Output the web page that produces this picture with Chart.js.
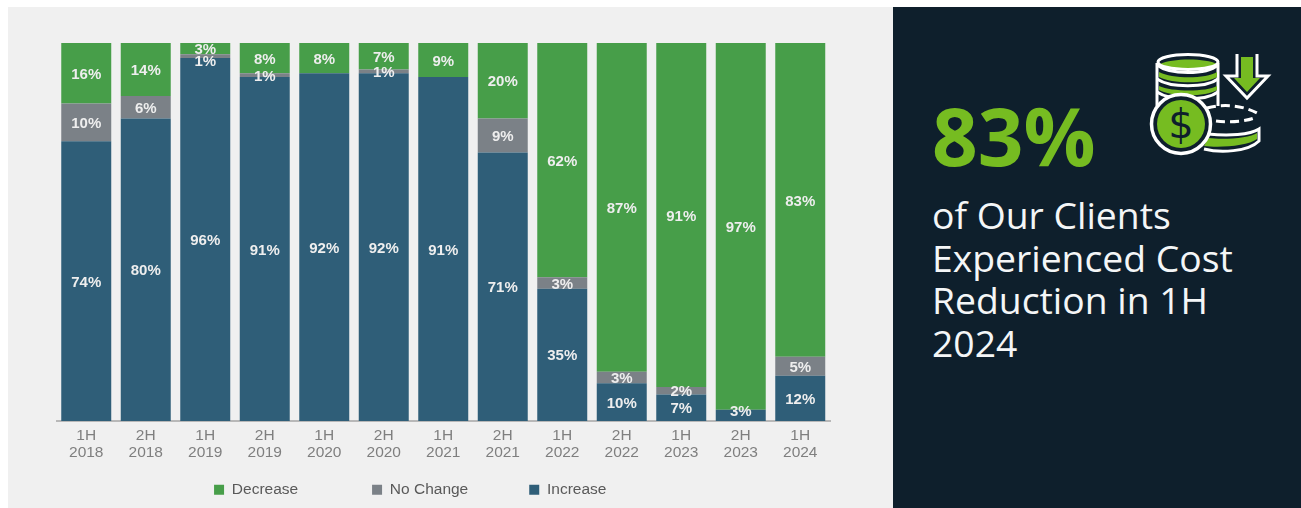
<!DOCTYPE html>
<html><head><meta charset="utf-8">
<script src="https://cdn.jsdelivr.net/npm/chart.js@4"></script>
<style>
html,body{margin:0;padding:0;background:#fff;width:1301px;height:508px;overflow:hidden}
#left{position:absolute;left:8px;top:7px;width:885px;height:501px;background:#f0f0f0}
#right{position:absolute;left:893px;top:7px;width:408px;height:501px;background:#0e1f2c}
#big{position:absolute;left:39px;top:73px;font:700 80px/110px "Open Sans";color:#76bc21}
#txt{position:absolute;left:39px;top:187px;width:360px;font:400 37.3px/42.6px "Open Sans";color:#f4f6f7}
#icon{position:absolute;left:0;top:0}
</style></head><body>
<div id="left"><canvas id="c" width="885" height="501"></canvas></div>
<div id="right">
<div id="big">83%</div>
<div id="txt">of Our Clients<br>Experienced Cost<br>Reduction in 1H<br>2024</div>
<svg id="icon" width="408" height="200" viewBox="893 7 408 200" fill="none">
<path d="M1157 63V106M1218 63V106" stroke="#fff" stroke-width="3"/>
<path d="M1160 64C1172 58 1206 58 1217 64C1206 71 1172 71 1160 64Z" fill="#76bc21"/>
<ellipse cx="1188" cy="62" rx="30" ry="7.5" stroke="#fff" stroke-width="3"/>
<path d="M1157 65C1170 75 1206 75 1218 65" stroke="#fff" stroke-width="3"/>
<path d="M1159 72C1172 79 1206 79 1217 72V77C1206 84 1172 84 1159 77Z" fill="#76bc21"/>
<path d="M1157 79C1170 88 1206 88 1218 79" stroke="#fff" stroke-width="3"/>
<path d="M1159 86C1172 92 1206 92 1217 86V90C1206 97 1172 97 1159 90Z" fill="#76bc21"/>
<path d="M1157 92C1170 101 1206 101 1218 92" stroke="#fff" stroke-width="3"/>
<path d="M1207 108C1225 103 1245 106 1259 114" stroke="#fff" stroke-width="3" stroke-dasharray="9 5"/>
<path d="M1216 121C1230 123 1247 121 1254 118" stroke="#fff" stroke-width="3" stroke-dasharray="9 5"/>
<path d="M1208 138C1225 140 1250 138 1257 133V139C1248 146 1220 148 1204 146Z" fill="#76bc21"/>
<path d="M1208 134C1228 136 1250 135 1259 129V141C1248 152 1220 153 1204 149" stroke="#fff" stroke-width="3"/>
<circle cx="1181" cy="124" r="29.5" fill="#0e1f2c" stroke="#fff" stroke-width="3.5"/>
<circle cx="1181" cy="124" r="24" fill="#76bc21"/>
<text x="1181" y="138" text-anchor="middle" font-family="DejaVu Sans" font-size="40" fill="#0e1f2c">$</text>
<path d="M1237 54V76H1226L1247 98L1268 76H1257V54" stroke="#fff" stroke-width="3"/>
<path d="M1241 57H1253V78H1260L1247 92L1234 78H1241Z" fill="#76bc21"/>
</svg>
</div>
<script>
const categories=[["1H","2018"],["2H","2018"],["1H","2019"],["2H","2019"],["1H","2020"],["2H","2020"],["1H","2021"],["2H","2021"],["1H","2022"],["2H","2022"],["1H","2023"],["2H","2023"],["1H","2024"]];
const increase=[74,80,96,91,92,92,91,71,35,10,7,3,12];
const noChange=[10,6,1,1,0,1,0,9,3,3,2,0,5];
const decrease=[16,14,3,8,8,7,9,20,62,87,91,97,83];
const seriesNames=["Increase","No Change","Decrease"];
const colors=["#2f5e78","#7b8187","#479e49"];
const FONT='"Liberation Sans"';

const barLabels={id:'barLabels',afterDatasetsDraw(chart){
  const ctx=chart.ctx;ctx.save();
  ctx.font='bold 15px '+FONT;ctx.fillStyle='#eeeeee';ctx.textAlign='center';ctx.textBaseline='middle';
  chart.data.datasets.forEach((ds,d)=>{
    const meta=chart.getDatasetMeta(d);
    ds.data.forEach((v,i)=>{
      if(!v)return;
      const el=meta.data[i];
      let shift=1.5;
      if(d===1&&i===2)shift=5.5;
      if(d===0&&i===11)shift=-3;
      ctx.fillText(v+'%',el.x,(el.y+el.base)/2+shift);
    });
  });
  ctx.restore();
}};
const legendPlace={id:'legendPlace',
  beforeLayout(chart){
    const lg=chart.legend;
    if(!lg._wrapped){const f=lg.fit;lg.fit=function(){f.call(this);this.height=30;};lg._wrapped=true;}
  },
  afterLayout(chart){
    const lg=chart.legend,p=lg.options.labels.padding;
    lg.left-=33;lg.right-=33;
    lg.top=475-p;lg.bottom=501;
  }};

new Chart(document.getElementById('c'),{
  type:'bar',
  data:{labels:categories,datasets:seriesNames.map((n,i)=>({
    label:n,data:[increase,noChange,decrease][i],backgroundColor:colors[i],
    categoryPercentage:1,barPercentage:0.84,borderWidth:0}))},
  options:{
    responsive:false,animation:false,
    layout:{padding:{left:48.5,right:63,top:36,bottom:0}},
    scales:{
      x:{stacked:true,grid:{display:false,drawTicks:false},
        border:{color:'#b8b8b8',width:2},
        afterFit(s){s.height=57;},
        ticks:{color:'#7f7f7f',font:{family:FONT,size:15.5,lineHeight:1.1},padding:6,maxRotation:0,autoSkip:false}},
      y:{stacked:true,display:false,min:0,max:100}
    },
    plugins:{
      tooltip:{enabled:false},
      legend:{position:'bottom',reverse:true,
        labels:{boxWidth:10,boxHeight:10,padding:61,color:'#595959',font:{family:FONT,size:15.5},
          generateLabels(chart){
            return chart.data.datasets.map((d,i)=>({
              text:d.label+(d.label==='Decrease'?'   ':''),
              fillStyle:d.backgroundColor,strokeStyle:d.backgroundColor,lineWidth:0,
              fontColor:'#595959',datasetIndex:i,hidden:false}));
          }}}
    }
  },
  plugins:[barLabels,legendPlace]
});
</script>
</body></html>
